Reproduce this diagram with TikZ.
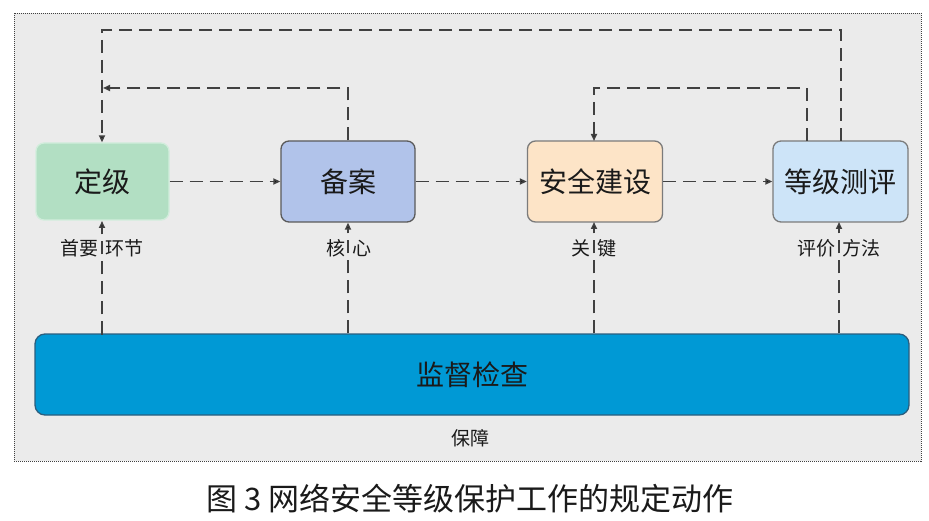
\documentclass[tikz,border=0pt]{standalone}
\usepackage{fontspec}
\setmainfont{Noto Sans CJK SC}
\usetikzlibrary{arrows.meta}
\definecolor{panelgray}{HTML}{EBEBEB}
\definecolor{linegray}{HTML}{404040}
\definecolor{cgreen}{HTML}{B2DFC3}
\definecolor{cgreenb}{HTML}{D2EDDC}
\definecolor{cblue}{HTML}{B1C3EA}
\definecolor{corange}{HTML}{FDE4C7}
\definecolor{clblue}{HTML}{CDE4F8}
\definecolor{cdeep}{HTML}{0099D5}
\definecolor{cdeepb}{HTML}{2B5E7E}
\definecolor{boxb}{HTML}{5A5A5A}
\definecolor{txt}{HTML}{1A1A1A}
\begin{document}
\begin{tikzpicture}[x=1pt,y=-1pt,
  stagebox/.style={rounded corners=8pt, inner sep=0pt, line width=1.3pt,
    minimum width=134pt, minimum height=80pt, text=txt,
    font=\fontsize{28}{30}\selectfont},
  lbl/.style={inner sep=0pt, text=txt, font=\fontsize{19}{21}\selectfont},
  dl/.style={draw=linegray, line width=1.6pt, dash pattern=on 13pt off 7pt},
  tip/.style={-{Triangle[length=7pt,width=6pt,fill=black]}}
]
\useasboundingbox (0,0) rectangle (929,521);
% panel
\node[draw=linegray, fill=panelgray, line width=0.8pt, dash pattern=on 1pt off 1pt,
  minimum width=907pt, minimum height=448pt, inner sep=0pt] (pn) at (467.5,237) {};
% stage boxes
\node[stagebox, fill=cgreen, draw=cgreenb, minimum width=133pt, minimum height=77pt] (dj) at (102.5,181.5) {定级};
\node[stagebox, fill=cblue, draw=boxb, minimum height=81pt] (ba) at (348,181.5) {备案};
\node[stagebox, fill=corange, draw=boxb!80, minimum width=135pt, minimum height=81pt] (aq) at (595,181.5) {安全建设};
\node[stagebox, fill=clblue, draw=boxb!80, minimum width=135pt, minimum height=81pt] (dc) at (840.5,181.5) {等级测评};
% supervision box
\node[rounded corners=10pt, inner sep=0pt, line width=1.3pt, fill=cdeep, draw=cdeepb,
  minimum width=874pt, minimum height=81pt, text=txt,
  font=\fontsize{28}{30}\selectfont] (jd) at (472,374.5) {监督检查};
\node[lbl] (bz) at (470,438) {保障};
% horizontal flow
\draw[dl, tip] (dj.east) -- (ba.west);
\draw[dl, tip] (ba.east) -- (aq.west);
\draw[dl, tip] (aq.east) -- (dc.west);
% upward arrows from supervision
\draw[dl, tip] (102,334.5) -- (102,221);
\draw[dl, tip] (jd.north -| ba.south) -- (ba.south);
\draw[dl, tip] (jd.north -| 594,0) -- (594,222);
\draw[dl, tip] (jd.north -| 839,0) -- (839,222);
% labels
\node[lbl] (l1) at (102,248) {首要\hspace{7pt}环节};
\node[lbl] (l2) at (349,248) {核\hspace{7pt}心};
\node[lbl] (l3) at (594,248) {关\hspace{7pt}键};
\node[lbl] (l4) at (839,248) {评价\hspace{7pt}方法};
% feedback loops
\draw[dl, tip] (ba.north) -- (ba.north |- 0,88) -- (103,88);
\draw[dl, tip] (841,141) -- (841,30) -- (102,30) -- (dj.north -| 102,0);
\draw[dl, tip] (807,141) -- (807,88) -- (594,88) -- (594,141);
% caption
\node[inner sep=0pt, text=txt, font=\fontsize{31}{33}\selectfont] (cap) at (470,499) {图 3 网络安全等级保护工作的规定动作};
\end{tikzpicture}
\end{document}
